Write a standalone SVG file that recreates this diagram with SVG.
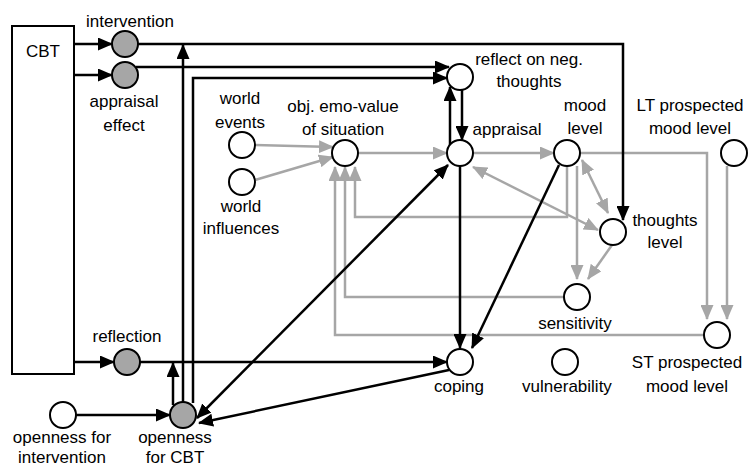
<svg xmlns="http://www.w3.org/2000/svg" width="748" height="467" viewBox="0 0 748 467">
<style>
text{font-family:"Liberation Sans",Arial,sans-serif;font-size:17px;fill:#000;text-anchor:middle}
.n{fill:#fff;stroke:#000;stroke-width:2}
.g{fill:#a6a6a6;stroke:#000;stroke-width:2}
.k{fill:none;stroke:#000;stroke-width:2.5}
.y{fill:none;stroke:#a6a6a6;stroke-width:2.5}
.k.a{marker-end:url(#ak)}
.y.a{marker-end:url(#ay)}
.k.d{marker-start:url(#ak);marker-end:url(#ak)}
.y.d{marker-start:url(#ay);marker-end:url(#ay)}
</style>
<defs>
<marker id="ak" markerWidth="15" markerHeight="13" refX="14" refY="6.5" orient="auto-start-reverse" markerUnits="userSpaceOnUse"><path d="M0,0 L15,6.5 L0,13 z" fill="#000"/></marker>
<marker id="ay" markerWidth="15" markerHeight="13" refX="14" refY="6.5" orient="auto-start-reverse" markerUnits="userSpaceOnUse"><path d="M0,0 L15,6.5 L0,13 z" fill="#a6a6a6"/></marker>
</defs>
<rect width="748" height="467" fill="#fff"/>
<g id="connectors">
<path class="y a" d="M255,145 L333,147"/>
<path class="y a" d="M255,180 L333,157"/>
<path class="y a" d="M358,153 L447,153"/>
<path class="y a" d="M473,153 L554,153"/>
<path class="y a" d="M567,166 L567,217 L355,217 L355,167"/>
<path class="y a" d="M564,297 L345,297 L345,167"/>
<path class="y a" d="M704,335 L335,335 L335,167"/>
<path class="y a" d="M580,153 L707,153 L707,319"/>
<path class="y a" d="M727,166 L727,319"/>
<path class="y a" d="M577,166 L577,279"/>
<path class="y d" d="M582,160 L608,213"/>
<path class="y d" d="M473,167 L598,230"/>
<path class="y a" d="M612,245 L588,279"/>
<path class="k a" d="M74,44 L112,44"/>
<path class="k a" d="M74,75 L112,75"/>
<path class="k a" d="M74,362 L114,362"/>
<path class="k a" d="M76,415 L170,415"/>
<path class="k a" d="M138,44 L623,44 L623,220"/>
<path class="k a" d="M136,67 L449,67"/>
<path class="k a" d="M193,403 L193,78 L447,78"/>
<path class="k a" d="M183,402 L183,45"/>
<path class="k a" d="M173,405 L173,363"/>
<path class="k a" d="M140,362 L447,362"/>
<path class="k d" d="M197,418 L448,165"/>
<path class="k a" d="M449,370 L199,423"/>
<path class="k a" d="M460,166 L460,348"/>
<path class="k a" d="M559,165 L472,348"/>
<path class="k a" d="M450,145 L450,87"/>
<path class="k a" d="M462,90 L462,140"/>
</g>
<g id="CBT"><rect x="12" y="26" width="62" height="348" fill="#fff" stroke="#000" stroke-width="2"/><text x="43" y="57">CBT</text></g>
<g id="intervention"><circle class="g" cx="125" cy="44" r="13"/><text x="130" y="27">intervention</text></g>
<g id="appraisal-effect"><circle class="g" cx="125" cy="75" r="13"/><text x="124" y="107">appraisal</text><text x="124" y="131">effect</text></g>
<g id="reflection"><circle class="g" cx="127" cy="362" r="13"/><text x="127" y="342">reflection</text></g>
<g id="openness-for-intervention"><circle class="n" cx="63" cy="415" r="13"/><text x="62" y="443">openness for</text><text x="62" y="463">intervention</text></g>
<g id="openness-for-CBT"><circle class="g" cx="183" cy="415" r="13"/><text x="175" y="443">openness</text><text x="175" y="463">for CBT</text></g>
<g id="world-events"><circle class="n" cx="242" cy="145" r="13"/><text x="240" y="104">world</text><text x="240" y="128">events</text></g>
<g id="world-influences"><circle class="n" cx="242" cy="182" r="13"/><text x="241" y="212">world</text><text x="241" y="234">influences</text></g>
<g id="obj-emo-value"><circle class="n" cx="345" cy="153" r="13"/><text x="343" y="112">obj. emo-value</text><text x="343" y="135">of situation</text></g>
<g id="reflect-neg-thoughts"><circle class="n" cx="460" cy="77" r="13"/><text x="529" y="65">reflect on neg.</text><text x="529" y="87">thoughts</text></g>
<g id="appraisal"><circle class="n" cx="460" cy="153" r="13"/><text x="507" y="135">appraisal</text></g>
<g id="mood-level"><circle class="n" cx="567" cy="153" r="13"/><text x="585" y="111">mood</text><text x="585" y="134">level</text></g>
<g id="LT-prospected"><circle class="n" cx="734" cy="153" r="13"/><text x="690" y="111">LT prospected</text><text x="690" y="134">mood level</text></g>
<g id="thoughts-level"><circle class="n" cx="613" cy="232" r="13"/><text x="665" y="226">thoughts</text><text x="665" y="248">level</text></g>
<g id="sensitivity"><circle class="n" cx="577" cy="297" r="13"/><text x="575" y="329">sensitivity</text></g>
<g id="ST-prospected"><circle class="n" cx="717" cy="335" r="13"/><text x="687" y="368">ST prospected</text><text x="687" y="392">mood level</text></g>
<g id="coping"><circle class="n" cx="460" cy="362" r="13"/><text x="459" y="392">coping</text></g>
<g id="vulnerability"><circle class="n" cx="565" cy="362" r="13"/><text x="567" y="392">vulnerability</text></g>
</svg>
